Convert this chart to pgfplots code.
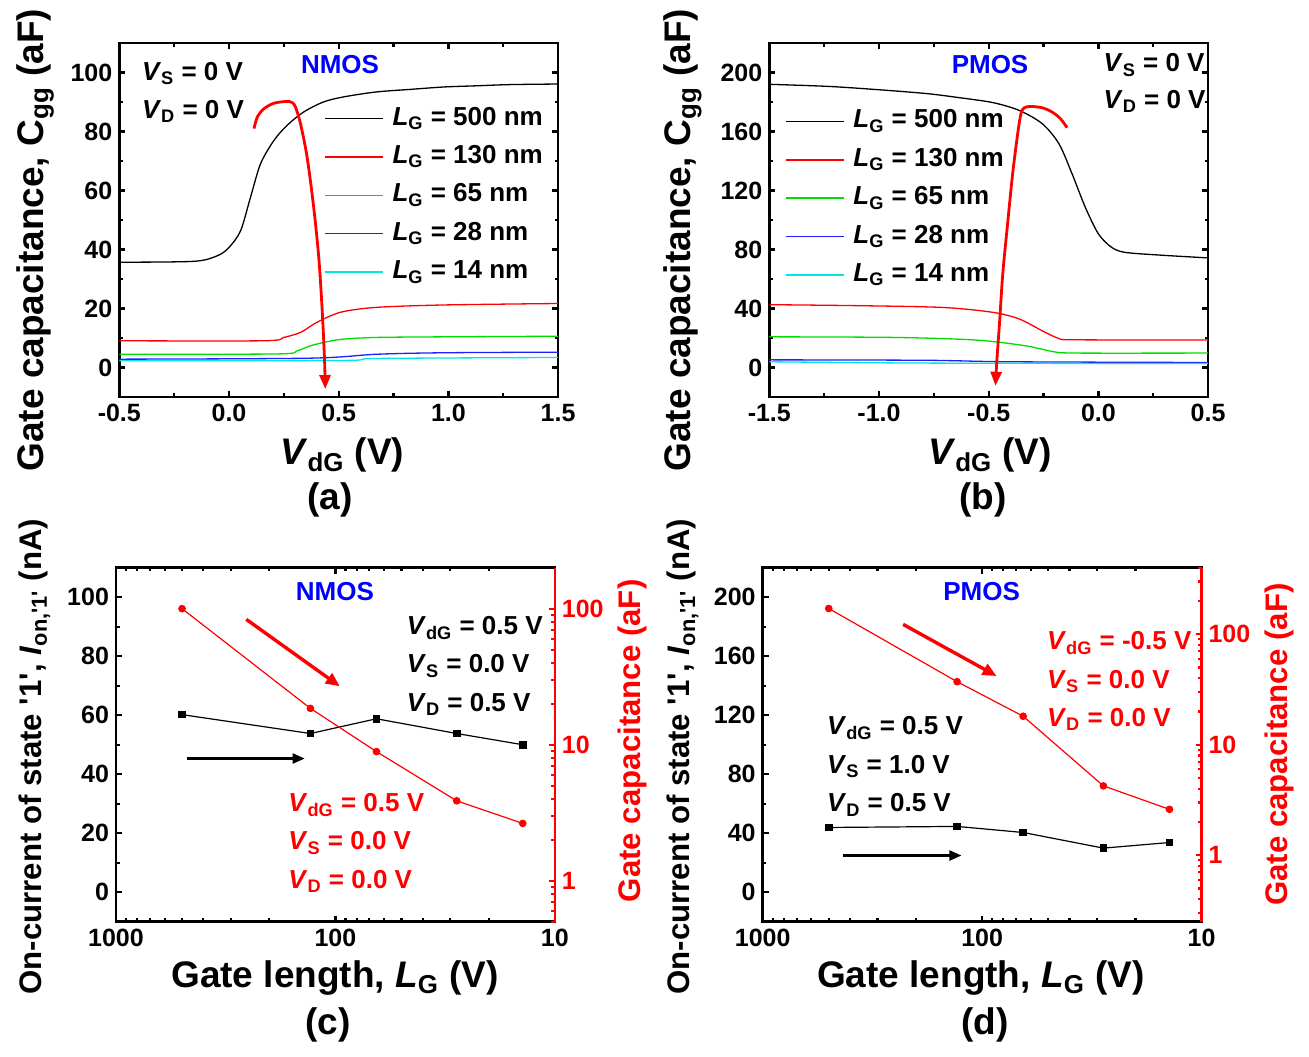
\documentclass[border=0pt]{standalone}
\usepackage{fontspec}
\setmainfont{Liberation Sans}
\usepackage{pgfplots}
\pgfplotsset{compat=1.18}
\usetikzlibrary{arrows.meta}

\definecolor{cgreen}{RGB}{0,220,0}
\definecolor{cblue}{RGB}{30,30,255}
\definecolor{ccyan}{RGB}{0,230,230}
\definecolor{nblue}{RGB}{0,0,255}

\newcommand\fs[1]{\fontsize{#1}{#1}\selectfont\bfseries}
\newcommand\V[1]{\textit{V}\textsubscript{#1}}
\newcommand\LG{\textit{L}\textsubscript{G}}
\newcommand\q{\textquotesingle}

\tikzset{txt/.style={font=\fs{13}, anchor=west, inner sep=0pt}}
\pgfplotsset{
  panel/.style={
    scale only axis, width=219.4pt, height=177pt,
    axis line style={line width=1.3pt},
    tick style={line width=1.1pt, black},
    major tick length=3pt, minor tick length=1.8pt,
    tick align=inside,
    tick label style={font=\fs{12.5}},
    /pgf/number format/assume math mode=true,
    /pgf/number format/1000 sep={},
    label style={font=\fs{18.5}},
  },
  curve/.style={line width=0.65pt, smooth},
  leg/.style={
    legend style={draw=none, fill=none, font=\fs{13}, inner sep=0pt, outer sep=0pt,
      row sep=6.2pt, column sep=4.2pt,
      nodes={inner sep=0pt, text height=9.5pt, text depth=3.5pt}},
    legend cell align=left,
    legend image code/.code={\draw[##1, line width=0.75pt] (0pt,0.25pt) -- (29pt,0.25pt);},
  },
}

\begin{document}
\begin{tikzpicture}
\useasboundingbox (0,0) rectangle (654.5pt,-528pt);

% (a) NMOS Cgg vs VdG
\begin{axis}[panel, leg, at={(59.65pt,-198.5pt)}, anchor=south west,
  xmin=-0.5, xmax=1.5, ymin=-10, ymax=110,
  xtick={-0.5,0,0.5,1,1.5}, xticklabels={-0.5,0.0,0.5,1.0,1.5}, minor x tick num=1,
  ytick={0,20,...,100}, minor y tick num=1,
  xlabel={\V{dG} (V)}, ylabel={Gate capacitance, C\textsubscript{gg} (aF)},
  xlabel style={at={(rel axis cs:0.508,-0.164)}, anchor=center},
  ylabel style={at={(rel axis cs:-0.192,0.443)}, anchor=center},
  legend style={at={(rel axis cs:0.468,0.822)}, anchor=north west}]
\addplot[black, curve] coordinates {(-0.5,35.7)(-0.16,36.0)(-0.053,37.9)(0,40.7)(0.053,46.4)(0.098,57.7)(0.144,69.1)(0.205,77.0)(0.265,82.1)(0.34,86.6)(0.43,90.0)(0.52,91.7)(0.67,93.4)(0.83,94.3)(0.98,95.1)(1.13,95.5)(1.28,95.9)(1.5,96.1)};
\addlegendentry{\LG{} = 500 nm}
\addplot[red, curve] coordinates {(-0.5,9.07)(0.16,9.07)(0.25,10.2)(0.326,11.9)(0.386,14.7)(0.447,17.0)(0.523,19.0)(0.674,20.4)(0.977,21.2)(1.5,21.7)};
\addlegendentry{\LG{} = 130 nm}
\addplot[cgreen, curve] coordinates {(-0.5,4.53)(0.22,4.6)(0.311,5.67)(0.371,7.37)(0.447,8.73)(0.523,9.64)(0.674,10.2)(0.977,10.4)(1.5,10.6)};
\addlegendentry{\LG{} = 65 nm}
\addplot[cblue, curve] coordinates {(-0.5,2.83)(0.37,3.17)(0.674,4.5)(0.977,5.0)(1.5,5.2)};
\addlegendentry{\LG{} = 28 nm}
\addplot[ccyan, curve] coordinates {(-0.5,2.26)(0.52,2.4)(0.674,3.07)(1.5,3.4)};
\addlegendentry{\LG{} = 14 nm}
\addplot[red, line width=1.4pt, smooth, -{Triangle[length=7pt,width=5.5pt]}, forget plot] coordinates {(0.114,81.0)(0.129,84.9)(0.159,87.7)(0.205,89.6)(0.265,90.2)(0.288,89.8)(0.303,88.3)(0.326,82.6)(0.356,71.3)(0.386,54.3)(0.409,37.4)(0.424,20.4)(0.435,3.4)(0.439,-7.3)};
\node[txt] at (rel axis cs:0.051,0.914) {\V{S} = 0 V};
\node[txt] at (rel axis cs:0.051,0.806) {\V{D} = 0 V};
\node[font=\fs{13}, text=nblue] at (rel axis cs:0.503,0.938) {NMOS};
\end{axis}

% (b) PMOS Cgg vs VdG
\begin{axis}[panel, leg, at={(384.65pt,-198.5pt)}, anchor=south west,
  xmin=-1.5, xmax=0.5, ymin=-20, ymax=220,
  xtick={-1.5,-1,-0.5,0,0.5}, xticklabels={-1.5,-1.0,-0.5,0.0,0.5}, minor x tick num=1,
  ytick={0,40,...,200}, minor y tick num=1,
  xlabel={\V{dG} (V)}, ylabel={Gate capacitance, C\textsubscript{gg} (aF)},
  xlabel style={at={(rel axis cs:0.503,-0.164)}, anchor=center},
  ylabel style={at={(rel axis cs:-0.197,0.443)}, anchor=center},
  legend style={at={(rel axis cs:0.037,0.814)}, anchor=north west}]
\addplot[black, curve] coordinates {(-1.5,192.0)(-1.233,190.6)(-1.008,188.4)(-0.782,185.7)(-0.632,182.9)(-0.481,179.6)(-0.361,174.3)(-0.256,165.3)(-0.180,151.7)(-0.120,131.3)(-0.060,108.7)(0,90.6)(0.060,81.5)(0.120,78.1)(0.271,76.3)(0.5,74.3)};
\addlegendentry{\LG{} = 500 nm}
\addplot[red, curve] coordinates {(-1.5,42.6)(-1.083,41.9)(-0.707,40.7)(-0.481,37.4)(-0.361,32.9)(-0.256,24.9)(-0.180,19.7)(-0.105,18.8)(0.5,18.6)};
\addlegendentry{\LG{} = 130 nm}
\addplot[cgreen, curve] coordinates {(-1.5,20.8)(-0.932,20.4)(-0.556,18.6)(-0.331,14.7)(-0.211,10.9)(-0.105,9.8)(0.5,9.8)};
\addlegendentry{\LG{} = 65 nm}
\addplot[cblue, curve] coordinates {(-1.5,5.2)(-0.782,4.9)(-0.406,3.9)(0.5,3.4)};
\addlegendentry{\LG{} = 28 nm}
\addplot[ccyan, curve] coordinates {(-1.5,3.9)(-0.782,3.0)(0.5,2.7)};
\addlegendentry{\LG{} = 14 nm}
\addplot[red, line width=1.4pt, smooth, -{Triangle[length=7pt,width=5.5pt]}, forget plot] coordinates {(-0.143,162.6)(-0.173,168.7)(-0.211,173.2)(-0.256,176.1)(-0.308,177.0)(-0.338,176.1)(-0.353,172.1)(-0.368,158.5)(-0.391,131.3)(-0.414,97.4)(-0.436,63.4)(-0.451,29.5)(-0.463,4.5)(-0.469,-12.4)};
\node[txt] at (rel axis cs:0.761,0.938) {\V{S} = 0 V};
\node[txt] at (rel axis cs:0.761,0.834) {\V{D} = 0 V};
\node[font=\fs{13}, text=nblue] at (rel axis cs:0.503,0.938) {PMOS};
\end{axis}

% (c) NMOS on-current and Cgg vs LG
\begin{axis}[panel, at={(58pt,-460.85pt)}, anchor=south west,
  xmode=log, x dir=reverse, xmin=10, xmax=1000, log ticks with fixed point,
  ymin=-10, ymax=110, ytick={0,20,...,100}, minor y tick num=1, ytick pos=left,
  xlabel={Gate length, \LG{} (V)},
  ylabel={On-current of state \q1\q, \textit{I}\textsubscript{on,\q1\q} (nA)},
  xlabel style={at={(rel axis cs:0.499,-0.159)}, anchor=center},
  ylabel style={at={(rel axis cs:-0.185,0.466)}, anchor=center, font=\fs{15.6}}]
\addplot[black, line width=0.6pt, mark=square*, mark size=1.6pt] coordinates {(500,60.2)(130,53.8)(65,58.8)(28,53.8)(14,50.0)};
\end{axis}
\begin{axis}[panel, at={(58pt,-460.85pt)}, anchor=south west,
  xmode=log, x dir=reverse, xmin=10, xmax=1000, hide x axis,
  ymode=log, ymin=0.5, ymax=200, log ticks with fixed point,
  axis y line*=right, axis line style={red, -}, tick style={red},
  yticklabel style={red},
  ylabel={Gate capacitance (aF)},
  ylabel style={red, at={(rel axis cs:1.178,0.511)}, anchor=center, font=\fs{15.6}}]
\addplot[red, line width=0.6pt, mark=*, mark size=1.6pt] coordinates {(500,100)(130,18.5)(65,8.9)(28,3.87)(14,2.64)};
\draw[red, line width=1.7pt, -{Triangle[length=7pt,width=6pt]}] (rel axis cs:0.297,0.854) -- (rel axis cs:0.510,0.665);
\draw[black, line width=1.1pt, -{Triangle[length=6pt,width=5pt]}] (rel axis cs:0.161,0.461) -- (rel axis cs:0.430,0.461);
\node[font=\fs{13}, text=nblue] at (rel axis cs:0.499,0.934) {NMOS};
\node[txt] at (rel axis cs:0.662,0.830) {\V{dG} = 0.5 V};
\node[txt] at (rel axis cs:0.662,0.722) {\V{S} = 0.0 V};
\node[txt] at (rel axis cs:0.662,0.613) {\V{D} = 0.5 V};
\node[txt, text=red] at (rel axis cs:0.392,0.330) {\V{dG} = 0.5 V};
\node[txt, text=red] at (rel axis cs:0.392,0.222) {\V{S} = 0.0 V};
\node[txt, text=red] at (rel axis cs:0.392,0.113) {\V{D} = 0.0 V};
\end{axis}

% (d) PMOS on-current and Cgg vs LG
\begin{axis}[panel, at={(381.35pt,-460.85pt)}, anchor=south west,
  xmode=log, x dir=reverse, xmin=10, xmax=1000, log ticks with fixed point,
  ymin=-20, ymax=220, ytick={0,40,...,200}, minor y tick num=1, ytick pos=left,
  xlabel={Gate length, \LG{} (V)},
  ylabel={On-current of state \q1\q, \textit{I}\textsubscript{on,\q1\q} (nA)},
  xlabel style={at={(rel axis cs:0.497,-0.159)}, anchor=center},
  ylabel style={at={(rel axis cs:-0.182,0.466)}, anchor=center, font=\fs{15.6}}]
\addplot[black, line width=0.6pt, mark=square*, mark size=1.6pt] coordinates {(500,43.9)(130,44.6)(65,40.5)(28,29.9)(14,33.7)};
\end{axis}
\begin{axis}[panel, at={(381.35pt,-460.85pt)}, anchor=south west,
  xmode=log, x dir=reverse, xmin=10, xmax=1000, hide x axis,
  ymode=log, ymin=0.25, ymax=400, log ticks with fixed point,
  axis y line*=right, axis line style={red, -}, tick style={red},
  yticklabel style={red},
  ylabel={Gate capacitance (aF)},
  ylabel style={red, at={(rel axis cs:1.178,0.5)}, anchor=center, font=\fs{15.6}}]
\addplot[red, line width=0.6pt, mark=*, mark size=1.6pt] coordinates {(500,171)(130,37.2)(65,18.1)(28,4.24)(14,2.6)};
\draw[red, line width=1.7pt, -{Triangle[length=7pt,width=6pt]}] (rel axis cs:0.320,0.840) -- (rel axis cs:0.533,0.694);
\draw[black, line width=1.1pt, -{Triangle[length=6pt,width=5pt]}] (rel axis cs:0.184,0.187) -- (rel axis cs:0.453,0.187);
\node[font=\fs{13}, text=nblue] at (rel axis cs:0.499,0.934) {PMOS};
\node[txt, text=red] at (rel axis cs:0.647,0.788) {\V{dG} = -0.5 V};
\node[txt, text=red] at (rel axis cs:0.647,0.679) {\V{S} = 0.0 V};
\node[txt, text=red] at (rel axis cs:0.647,0.571) {\V{D} = 0.0 V};
\node[txt] at (rel axis cs:0.146,0.547) {\V{dG} = 0.5 V};
\node[txt] at (rel axis cs:0.146,0.439) {\V{S} = 1.0 V};
\node[txt] at (rel axis cs:0.146,0.330) {\V{D} = 0.5 V};
\end{axis}

\node[font=\fs{18.5}] at (165pt,-250pt) {(a)};
\node[font=\fs{18.5}] at (491.5pt,-250pt) {(b)};
\node[font=\fs{18.5}] at (164pt,-512.5pt) {(c)};
\node[font=\fs{18.5}] at (492.5pt,-512.5pt) {(d)};
\end{tikzpicture}
\end{document}
